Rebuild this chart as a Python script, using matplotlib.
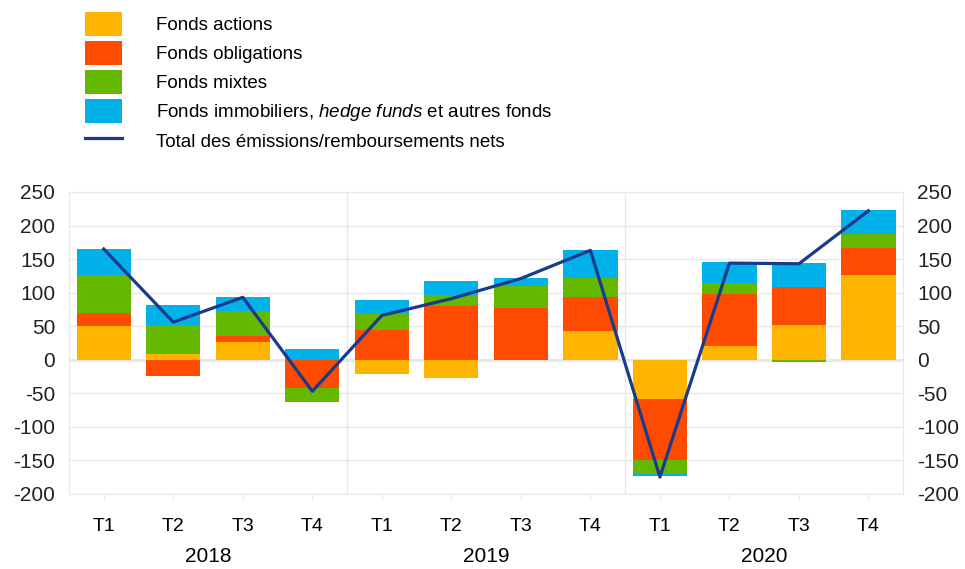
import numpy as np
import matplotlib
matplotlib.use("Agg")
import matplotlib.pyplot as plt
from matplotlib.patches import Patch
from matplotlib.lines import Line2D
from matplotlib.transforms import blended_transform_factory

plt.rcParams['font.family'] = ['Liberation Sans', 'DejaVu Sans']
plt.rcParams['mathtext.fontset'] = 'custom'
plt.rcParams['mathtext.rm'] = 'Liberation Sans'
plt.rcParams['mathtext.it'] = 'Liberation Sans:italic'
plt.rcParams['axes.unicode_minus'] = False

# data (EUR bn)
quarters = ['T1', 'T2', 'T3', 'T4'] * 3
years = ['2018', '2019', '2020']
actions = [50, 8, 26, 0, -22, -27, -1, 43, -59, 20, 51, 127]
obligations = [20, -24, 9, -42, 44, 80, 77, 51, -90, 78, 58, 39]
mixtes = [57, 44, 37, -21, 26, 16, 33, 28, -22, 17, -3, 22]
autres = [38, 29, 21, 16, 19, 22, 12, 41, -2, 30, 35, 35]
total = [165, 56, 93, -47, 66, 91, 121, 163, -175, 144, 143, 222]

series = [actions, obligations, mixtes, autres]
labels = ['Fonds actions', 'Fonds obligations', 'Fonds mixtes',
          'Fonds immobiliers, $\\mathit{hedge\\ funds}$ et autres fonds']
colors = ['#ffb400', '#ff4b00', '#65b800', '#00b1ea']
line_col = '#1a3a8c'

fig = plt.figure(figsize=(9.65, 5.69), dpi=100)
ax = fig.add_axes([0.0715, 0.132, 0.8645, 0.5306])

x = np.arange(len(quarters))
pos = np.zeros(len(x))
neg = np.zeros(len(x))
for vals, col in zip(series, colors):
    v = np.array(vals, dtype=float)
    bottom = np.where(v >= 0, pos, neg)
    ax.bar(x, v, bottom=bottom, width=0.78, color=col, zorder=2)
    pos = pos + np.where(v >= 0, v, 0)
    neg = neg + np.where(v < 0, v, 0)

ax.plot(x, total, color=line_col, lw=2.3, zorder=3)

ax.set_xlim(-0.5, len(x) - 0.5)
ax.set_ylim(-200, 250)
ax.set_yticks(np.arange(-200, 251, 50))
ax.yaxis.grid(True, color='#e8e8e8', lw=1, zorder=0)
ax.axhline(0, color='#8c8c8c', lw=1, zorder=1)
for b in [3.5, 7.5]:
    ax.axvline(b, color='#e8e8e8', lw=1, zorder=0)
for s in ax.spines.values():
    s.set_color('#e8e8e8')

ax.set_xticks(x)
ax.set_xticklabels(quarters)
ax.tick_params(axis='x', length=5, color='#ececec', pad=12, labelsize=14)
ax.tick_params(axis='y', length=0, pad=10, labelsize=15, labelcolor='#222222')

ax2 = ax.twinx()
ax2.set_ylim(ax.get_ylim())
ax2.set_yticks(np.arange(-200, 251, 50))
ax2.tick_params(axis='y', length=0, pad=10, labelsize=15, labelcolor='#222222')
for s in ax2.spines.values():
    s.set_visible(False)

tr = blended_transform_factory(ax.transData, fig.transFigure)
for i, yr in enumerate(years):
    ax.text(4 * i + 1.5, 0.022, yr, transform=tr, ha='center', va='center', fontsize=15)

handles = [Patch(facecolor=c, edgecolor='none') for c in colors]
handles.append(Line2D([], [], color=line_col, lw=2.3))
fig.legend(handles, labels + ['Total des émissions/remboursements nets'],
           loc='upper left', bbox_to_anchor=(0.080, 0.992), frameon=False,
           fontsize=13.5, handlelength=1.97, handleheight=1.55,
           labelspacing=0.3, handletextpad=1.85, borderaxespad=0)

fig.savefig('out.png', dpi=100)
